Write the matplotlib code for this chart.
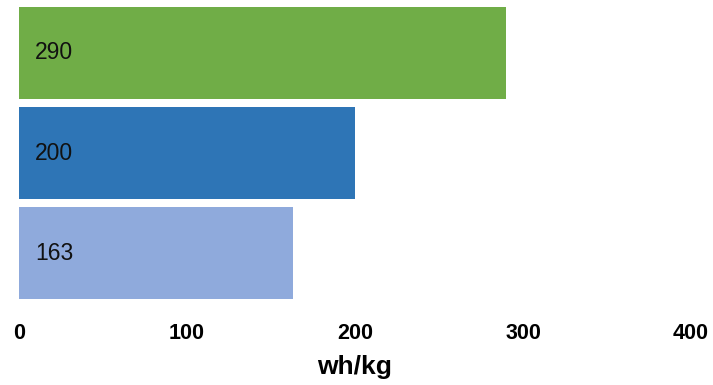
import matplotlib
matplotlib.use("Agg")
import matplotlib.pyplot as plt

# Energy density of three cell types (bottom to top)
values = [163, 200, 290]
colors = ["#8FAADC", "#2E75B6", "#70AD47"]
xticks = [0, 100, 200, 300, 400]
xlabel = "wh/kg"

plt.rcParams["font.family"] = ["Liberation Sans", "DejaVu Sans"]

fig = plt.figure(figsize=(7.13, 3.85), dpi=100)
ax = fig.add_axes([19 / 713, 1 - 303.5 / 385, (691 - 19) / 713, 301 / 385])

pos = list(range(len(values)))
ax.barh(pos, values, height=0.915, color=colors)

for p, v in zip(pos, values):
    ax.annotate(str(v), xy=(0, p), xytext=(11.5, 0), textcoords="offset points",
                ha="left", va="center", fontsize=16.5, color="#111111")

ax.set_xlim(0, 400)
ax.set_ylim(-0.5, len(values) - 0.5)
ax.set_xticks(xticks)
ax.set_xticklabels([str(t) for t in xticks], fontsize=15.5, fontweight="bold")
ax.set_yticks([])
ax.tick_params(axis="x", length=0, pad=14)
for s in ax.spines.values():
    s.set_visible(False)
ax.set_xlabel(xlabel, fontsize=19, fontweight="bold", labelpad=8)

fig.savefig("out.png", dpi=100)
